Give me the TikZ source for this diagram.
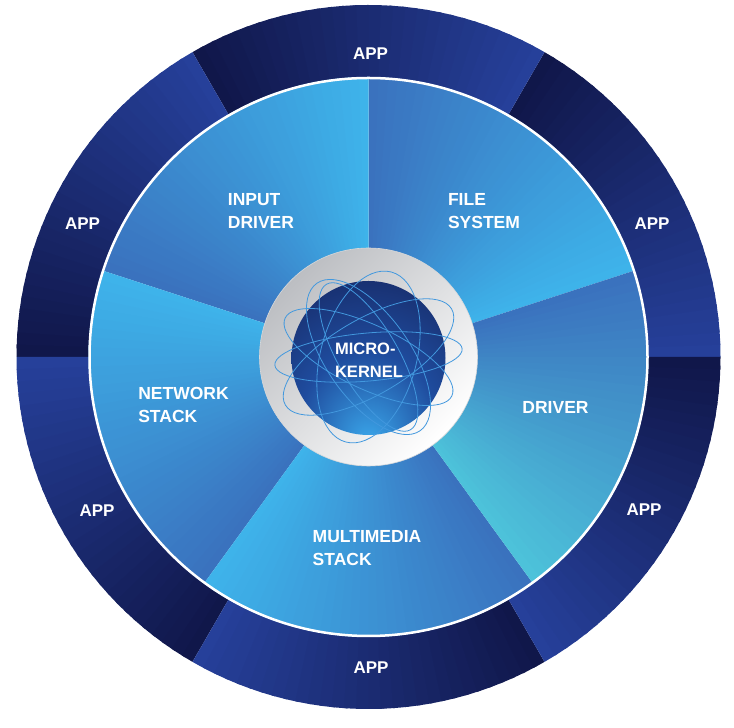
\documentclass[tikz,border=0pt]{standalone}
\usepackage{fontspec}
\setmainfont{Liberation Sans}
\definecolor{ringlight}{HTML}{26409A}
\definecolor{ringdark}{HTML}{10174A}
\definecolor{seclight}{HTML}{3EB3EA}
\definecolor{secdark}{HTML}{3A72BE}
\definecolor{drvlight}{HTML}{4DC2DA}
\definecolor{orbit}{HTML}{4298DE}
\definecolor{sphlight}{HTML}{3BA9EC}
\definecolor{sphmid}{HTML}{1F4C9E}
\definecolor{sphdark}{HTML}{141D52}
\definecolor{ringgrey}{HTML}{BCBEC2}
\definecolor{ringmid}{HTML}{E8E9EB}
\pgfdeclareradialshading{spheresh}{\pgfpoint{0bp}{-28bp}}{color(0bp)=(sphlight); color(22bp)=(sphmid); color(52bp)=(sphdark); color(80bp)=(sphdark)}
\tikzset{
  lbl/.style={text=white, font=\fontsize{17.5}{23}\selectfont\bfseries, align=left, inner sep=0pt},
  applbl/.style={text=white, font=\fontsize{17}{23}\selectfont\bfseries, inner sep=0pt},
  corelbl/.style={text=white, font=\fontsize{16.5}{23}\selectfont\bfseries, align=left, inner sep=0pt},
  orbitline/.style={draw=orbit, line width=0.8pt},
}
\begin{document}
\begin{tikzpicture}[x=1pt,y=1pt]
\useasboundingbox (0,0) rectangle (734,728);
\coordinate (O) at (368.5,371);
\begin{scope}[shift={(O)}]
  % outer ring of six APP segments
  \foreach \s in {0,60,...,300}{
    \foreach \k in {0,...,29}{
      \pgfmathsetmacro{\a}{\s+2*\k}
      \pgfmathsetmacro{\b}{min(\a+2.6,\s+60)}
      \pgfmathsetmacro{\p}{100*\k/29}
      \fill[ringdark!\p!ringlight] (\a:279) arc[start angle=\a, end angle=\b, radius=279]
        -- (\b:352) arc[start angle=\b, end angle=\a, radius=352] -- cycle;
    }
  }
  % inner five sectors
  \foreach \s/\cl in {18/seclight, 90/seclight, 162/seclight, 234/seclight, 306/drvlight}{
    \foreach \k in {0,...,35}{
      \pgfmathsetmacro{\a}{\s+2*\k}
      \pgfmathsetmacro{\b}{min(\a+2.6,\s+72)}
      \pgfmathsetmacro{\p}{100*\k/35}
      \fill[secdark!\p!\cl] (0,0) -- (\a:280) arc[start angle=\a, end angle=\b, radius=280] -- cycle;
    }
  }
  \draw[white, line width=2.5pt] (0,0) circle[radius=279];
  % micro-kernel core
  \shade[left color=ringgrey, middle color=ringmid, right color=white, shading angle=45] (0,0) circle[radius=109];
  \draw[ringgrey!60, line width=0.6pt] (0,0) circle[radius=109];
  \shade[shading=spheresh] (0,-1) circle[radius=77];
  \draw[orbitline, rotate=30] (0,0) ellipse[x radius=96, y radius=38];
  \draw[orbitline, rotate=-25] (0,0) ellipse[x radius=92, y radius=32];
  \draw[orbitline, rotate=75] (0,0) ellipse[x radius=88, y radius=48];
  \draw[orbitline, rotate=5] (0,0) ellipse[x radius=94, y radius=24];
  \draw[orbitline, rotate=125] (0,0) ellipse[x radius=90, y radius=42];
  \draw[orbitline, rotate=-60] (0,0) ellipse[x radius=84, y radius=30];
\end{scope}
% labels
\node[corelbl] (core) at (369,368) {MICRO-\\KERNEL};
\node[lbl] (input) at (261,517) {INPUT\\DRIVER};
\node[lbl] (fs) at (484,517) {FILE\\SYSTEM};
\node[lbl] (net) at (183.5,323) {NETWORK\\STACK};
\node[lbl] (drv) at (555.5,321) {DRIVER};
\node[lbl] (mm) at (367,179.5) {MULTIMEDIA\\STACK};
\node[applbl] (app1) at (370.5,674) {APP};
\node[applbl] (app2) at (82.5,504.5) {APP};
\node[applbl] (app3) at (652,504) {APP};
\node[applbl] (app4) at (97,217) {APP};
\node[applbl] (app5) at (644,218) {APP};
\node[applbl] (app6) at (371,60) {APP};
\end{tikzpicture}
\end{document}
